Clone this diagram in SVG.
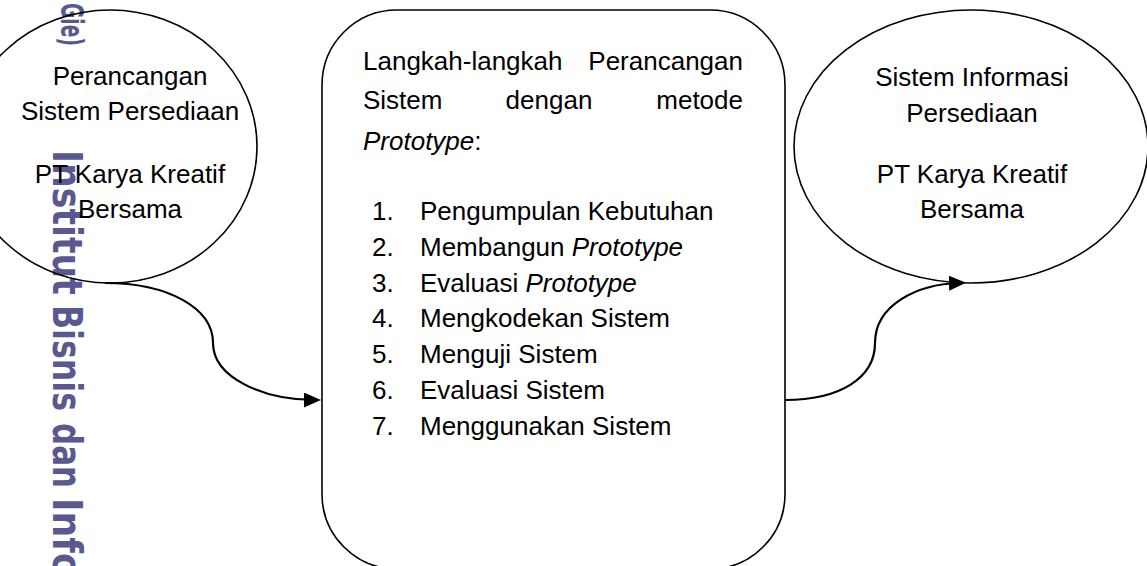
<svg xmlns="http://www.w3.org/2000/svg" width="1147" height="566" viewBox="0 0 1147 566">
<style>
.shape{fill:none;stroke:#000;stroke-width:1.6}
.conn{fill:none;stroke:#000;stroke-width:2.2}
.t{font-family:"Liberation Sans",Arial,sans-serif;font-size:26px;fill:#000}
.c{text-anchor:middle}
.i{font-style:italic}
.wm{font-family:"DejaVu Sans",Verdana,sans-serif;font-weight:bold;fill:#5a5890}
</style>
<defs>
<marker id="arr" markerUnits="userSpaceOnUse" markerWidth="17" markerHeight="15" viewBox="0 0 17 15" refX="11" refY="7.5" orient="auto">
<path d="M0,0 L17,7.5 L0,15 z" fill="#000"/>
</marker>
</defs>
<g id="watermark">
<text class="wm" font-size="32" x="61" y="46" text-anchor="end" textLength="43" lengthAdjust="spacingAndGlyphs" transform="rotate(90 61 46)">Gie)</text>
<text class="wm" font-size="41" x="53" y="150" textLength="145" lengthAdjust="spacingAndGlyphs" transform="rotate(90 53 150)">Institut</text>
<text class="wm" font-size="41" x="53" y="305" textLength="106" lengthAdjust="spacingAndGlyphs" transform="rotate(90 53 305)">Bisnis</text>
<text class="wm" font-size="41" x="53" y="423" textLength="65" lengthAdjust="spacingAndGlyphs" transform="rotate(90 53 423)">dan</text>
<text class="wm" font-size="41" x="53" y="498" textLength="80" lengthAdjust="spacingAndGlyphs" transform="rotate(90 53 498)">Info</text>
</g>
<g id="connectors">
<path class="conn" d="M105,283 C168,283 213,308 213,343 C213,378 264,400 315,400" marker-end="url(#arr)"/>
<path class="conn" d="M785,400 C840,400 875,378 875,343 C875,305 917,284 960,283" marker-end="url(#arr)"/>
</g>
<g id="node-input">
<ellipse class="shape" cx="110" cy="146.5" rx="147" ry="136.5"/>
<text class="t c" x="130" y="85">Perancangan</text>
<text class="t c" x="130" y="120">Sistem Persediaan</text>
<text class="t c" x="130" y="183">PT Karya Kreatif</text>
<text class="t c" x="130" y="218">Bersama</text>
</g>
<g id="node-process">
<rect class="shape" x="322" y="10" width="463" height="559" rx="75" ry="75"/>
<text class="t" x="363" y="70">Langkah-langkah</text>
<text class="t" x="743" y="70" text-anchor="end">Perancangan</text>
<text class="t" x="363" y="109">Sistem</text>
<text class="t c" x="549" y="109">dengan</text>
<text class="t" x="743" y="109" text-anchor="end">metode</text>
<text class="t" x="363" y="150"><tspan class="i">Prototype</tspan>:</text>
<text class="t" x="372" y="220">1.</text><text class="t" x="420" y="220">Pengumpulan Kebutuhan</text>
<text class="t" x="372" y="255.8">2.</text><text class="t" x="420" y="255.8">Membangun <tspan class="i">Prototype</tspan></text>
<text class="t" x="372" y="291.6">3.</text><text class="t" x="420" y="291.6">Evaluasi <tspan class="i">Prototype</tspan></text>
<text class="t" x="372" y="327.4">4.</text><text class="t" x="420" y="327.4">Mengkodekan Sistem</text>
<text class="t" x="372" y="363.2">5.</text><text class="t" x="420" y="363.2">Menguji Sistem</text>
<text class="t" x="372" y="399">6.</text><text class="t" x="420" y="399">Evaluasi Sistem</text>
<text class="t" x="372" y="434.8">7.</text><text class="t" x="420" y="434.8">Menggunakan Sistem</text>
</g>
<g id="node-output">
<ellipse class="shape" cx="971" cy="146.5" rx="177" ry="136.5"/>
<text class="t c" x="972" y="86">Sistem Informasi</text>
<text class="t c" x="972" y="122">Persediaan</text>
<text class="t c" x="972" y="183">PT Karya Kreatif</text>
<text class="t c" x="972" y="218">Bersama</text>
</g>
</svg>
